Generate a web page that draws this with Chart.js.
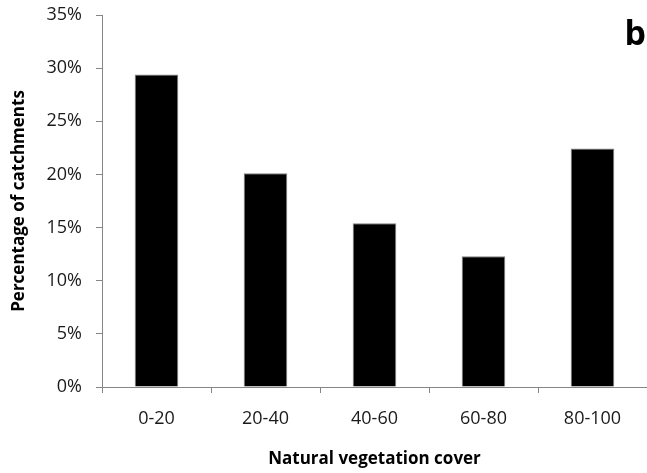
<!DOCTYPE html>
<html>
<head>
<meta charset="utf-8">
<script src="https://cdn.jsdelivr.net/npm/chart.js@4"></script>
<style>
  html, body { margin: 0; padding: 0; background: #fff; }
  #wrap { width: 647px; height: 473px; position: relative; }
</style>
</head>
<body>
<div id="wrap"><canvas id="chart"></canvas></div>
<script>
// ===== DATA =====
const categories = ['0-20', '20-40', '40-60', '60-80', '80-100'];
const percentCatchments = [29.4, 20.1, 15.4, 12.3, 22.45];
const yTicks = [0, 5, 10, 15, 20, 25, 30, 35];
const panelLetter = 'b';

const FONT = "'Open Sans', Lato, sans-serif";

// letter in the top right corner
const panelLabel = {
  id: 'panelLabel',
  afterDraw(chart) {
    const c = chart.ctx;
    c.save();
    c.font = "bold 34px " + FONT;
    c.fillStyle = '#000';
    c.textAlign = 'right';
    c.textBaseline = 'alphabetic';
    c.fillText(panelLetter, 646, 45);
    c.restore();
  }
};

new Chart(document.getElementById('chart'), {
  type: 'bar',
  data: {
    labels: categories,
    datasets: [{
      data: percentCatchments,
      backgroundColor: '#000',
      borderColor: '#7f7f7f',
      borderWidth: 1,
      barPercentage: 0.4,
      categoryPercentage: 1.0
    }]
  },
  options: {
    responsive: true,
    maintainAspectRatio: false,
    animation: false,
    layout: { padding: 0 },
    plugins: {
      legend: { display: false },
      tooltip: { enabled: false }
    },
    scales: {
      x: {
        grid: {
          drawOnChartArea: false,
          tickLength: 6,
          color: '#868686'
        },
        border: { color: '#868686', width: 1 },
        ticks: {
          color: '#1a1a1a',
          font: { family: FONT, size: 18 },
          padding: 15
        },
        title: {
          display: true,
          text: 'Natural vegetation cover',
          color: '#000',
          font: { family: FONT, size: 17, weight: 'bold' },
          padding: { top: 10 }
        },
        afterFit(scale) { scale.height = 86; }
      },
      y: {
        min: 0,
        max: 35,
        afterBuildTicks(scale) {
          scale.ticks = yTicks.map(v => ({ value: v }));
        },
        grid: {
          drawOnChartArea: false,
          tickLength: 6,
          color: '#868686'
        },
        border: { color: '#868686', width: 1 },
        ticks: {
          color: '#1a1a1a',
          font: { family: FONT, size: 18, lineHeight: 1 },
          padding: 14,
          callback: v => v + '%'
        },
        title: {
          display: true,
          text: 'Percentage of catchments',
          color: '#000',
          font: { family: FONT, size: 17, weight: 'bold' },
          padding: { top: 9, bottom: 0 }
        },
        afterFit(scale) {
          scale.width = 102;
          scale.paddingTop = 15;
        }
      }
    }
  },
  plugins: [panelLabel]
});
</script>
</body>
</html>
